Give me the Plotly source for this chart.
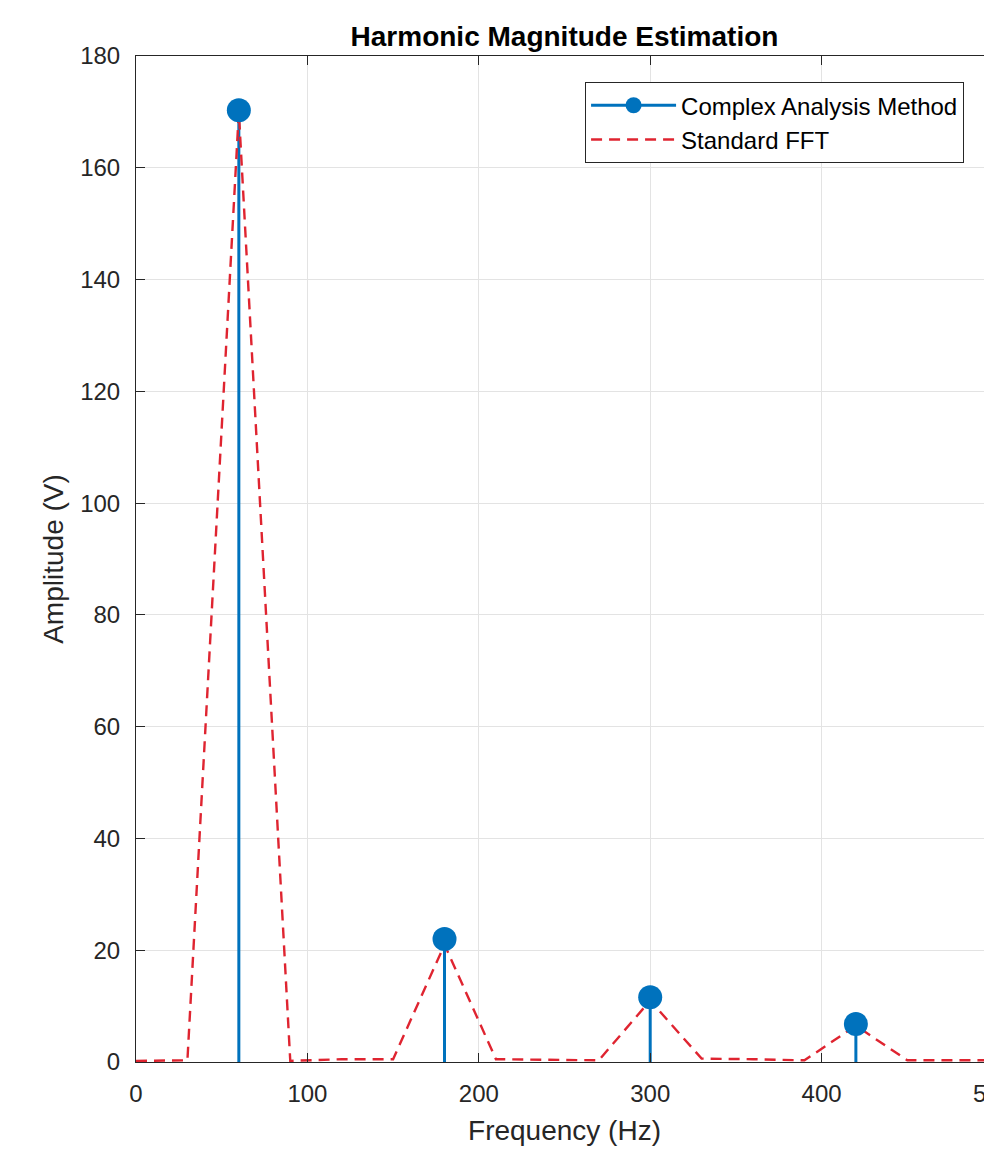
import plotly.graph_objects as go

# Harmonic estimates (Complex Analysis Method)
harm_freq = [60, 180, 300, 420]
harm_amp = [170.3, 22.0, 11.6, 6.8]

# Standard FFT bins (30 Hz resolution)
fft_freq = [0, 30, 60, 90, 120, 150, 180, 210, 240, 270, 300, 330, 360, 390, 420, 450, 480, 510]
fft_amp = [0.2, 0.3, 170.0, 0.2, 0.5, 0.5, 21.0, 0.5, 0.4, 0.3, 11.0, 0.6, 0.5, 0.3, 6.5, 0.3, 0.3, 0.3]

x_ticks = [0, 100, 200, 300, 400, 500]
y_ticks = [0, 20, 40, 60, 80, 100, 120, 140, 160, 180]

BLUE = "#0072BD"
RED = "#DF2430"
AX = "#262626"
FONT = "Liberation Sans, Arial, Helvetica"

stem_x, stem_y = [], []
for f, a in zip(harm_freq, harm_amp):
    stem_x += [f, f, None]
    stem_y += [0, a, None]

fig = go.Figure()
fig.add_trace(go.Scatter(x=stem_x, y=stem_y, mode="lines",
                         line=dict(color=BLUE, width=3), showlegend=False,
                         hoverinfo="skip"))
fig.add_trace(go.Scatter(x=fft_freq, y=fft_amp, mode="lines",
                         line=dict(color=RED, width=2.4, dash="11px,7px"),
                         name="Standard FFT", showlegend=False))
fig.add_trace(go.Scatter(x=harm_freq, y=harm_amp, mode="markers",
                         marker=dict(color=BLUE, size=24),
                         showlegend=False))
# legend entries
fig.add_trace(go.Scatter(x=[None], y=[None], mode="lines+markers",
                         line=dict(color=BLUE, width=3),
                         marker=dict(color=BLUE, size=20),
                         name="Complex Analysis Method"))
fig.add_trace(go.Scatter(x=[None], y=[None], mode="lines",
                         line=dict(color=RED, width=2.4, dash="11px,7px"),
                         name="Standard FFT"))

axis_common = dict(
    showline=True, linecolor=AX, linewidth=1, mirror="ticks",
    ticks="inside", ticklen=9, tickcolor=AX,
    showgrid=True, gridcolor="#e3e3e3", gridwidth=1,
    zeroline=False, ticklabelstandoff=10, ticklabeloverflow="allow",
    automargin=False,
    tickfont=dict(family=FONT, size=24, color=AX),
)

fig.update_layout(
    width=993, height=1150,
    margin=dict(l=136, r=0, t=56, b=88, autoexpand=False),
    paper_bgcolor="white", plot_bgcolor="white",
    font=dict(family=FONT, color=AX),
    title=dict(text="<b>Harmonic Magnitude Estimation</b>",
               x=0.5, xref="paper", xanchor="center",
               y=1 - 36 / 1150, yref="container", yanchor="middle",
               font=dict(size=28, color="black")),
    xaxis=dict(range=[0, 500], tickvals=x_ticks,
               title=dict(text="Frequency (Hz)", font=dict(size=28, color=AX), standoff=14),
               **axis_common),
    yaxis=dict(range=[0, 180], tickvals=y_ticks,
               title=dict(text="Amplitude (V)", font=dict(size=28, color=AX), standoff=8),
               **axis_common),
    legend=dict(x=0.524, y=0.974, xanchor="left", yanchor="top",
                bordercolor=AX, borderwidth=1, bgcolor="white",
                font=dict(family=FONT, size=24, color="black"), tracegroupgap=0,
                itemwidth=85),
)

fig.write_html(
    "out.html",
    config={"displayModeBar": False},
    post_script="document.body.style.margin='0';document.body.style.overflow='hidden';",
)
